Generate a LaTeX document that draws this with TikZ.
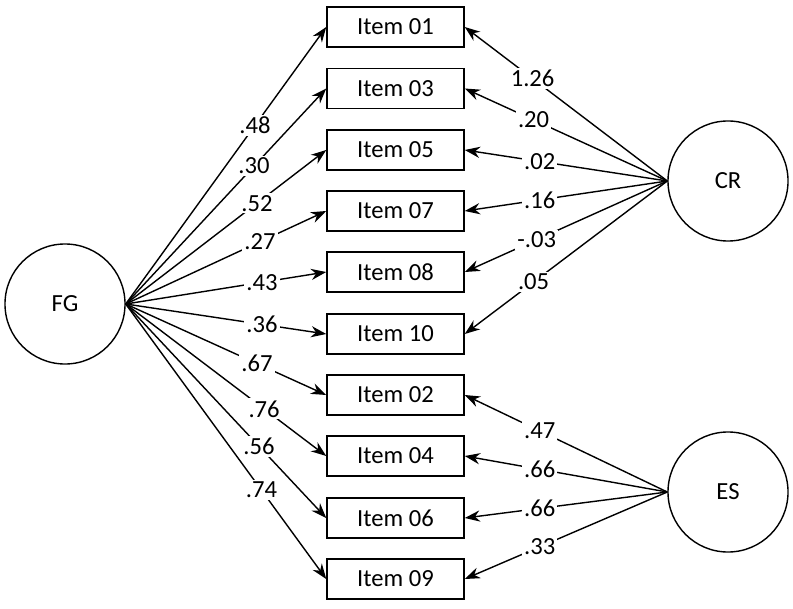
\documentclass[tikz,border=0pt]{standalone}
\usepackage{fontspec}
\setmainfont{Carlito}
\usetikzlibrary{arrows.meta, positioning}

\begin{document}
\begin{tikzpicture}[x=0.025cm, y=-0.025cm,
      every node/.style={font=\fontsize{17.5}{20}\selectfont},
      itm/.style={draw, line width=1.2pt, minimum width=3.42cm, minimum height=1cm, inner sep=0pt},
      lat/.style={draw, circle, line width=1pt, minimum size=3cm, inner sep=0pt},
      ld/.style={line width=1pt, -{Stealth[length=3.8mm, width=2.8mm]}},
      wt/.style={fill=white, inner sep=1.5pt}]
    \useasboundingbox (0,0) rectangle (793,609);
    % items
    \foreach \n/\y in {01/27, 03/88.5, 05/150, 07/211, 08/272, 10/334, 02/395, 04/456, 06/518, 09/579}
      \node[itm] (i\n) at (395.5,\y) {Item \n};
    % factors
    \node[lat] (FG) at (65,304) {FG};
    \node[lat] (CR) at (728,181) {CR};
    \node[lat] (ES) at (728,492) {ES};
    % loadings
    \foreach \n/\w/\p in {01/.48/.645, 03/.30/.64, 05/.52/.655, 07/.27/.67, 08/.43/.68,
                         10/.36/.68, 02/.67/.655, 04/.76/.69, 06/.56/.665, 09/.74/.677}
      \draw[ld] (FG.east) -- node[wt, pos=\p] {\w} (i\n.west);
    \foreach \n/\w/\p in {01/1.26/.665, 03/.20/.66, 05/.02/.63, 07/.16/.63, 08/-.03/.645, 10/.05/.66}
      \draw[ld] (CR.west) -- node[wt, pos=\p] {\w} (i\n.east);
    \foreach \n/\w in {02/.47, 04/.66, 06/.66, 09/.33}
      \draw[ld] (ES.west) -- node[wt, pos=.63] {\w} (i\n.east);
  \end{tikzpicture}
\end{document}
